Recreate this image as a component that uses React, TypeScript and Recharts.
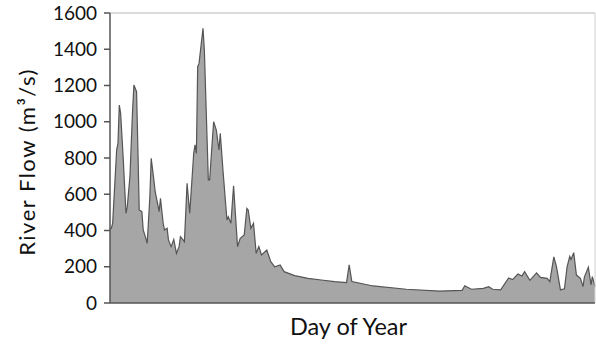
import React from "react";
import { AreaChart, Area, XAxis, YAxis, ReferenceLine } from "recharts";

const days = [0,1,2,5,6,7,8,10,12,13,15,17,18,20,21,22,24,25,27,28,30,31,33,34,36,37,38,40,41,43,44,46,48,50,52,53,55,56,58,60,63,64,65,66,67,70,71,74,75,76,78,80,82,83,85,88,89,91,93,95,96,98,101,103,104,106,108,110,112,114,118,121,124,128,131,139,149,159,169,178,180,182,198,223,248,265,267,272,281,285,288,294,300,303,307,310,312,316,321,324,329,331,334,336,339,342,344,346,347,349,351,354,356,357,360,362,363,365];
const flows = [410,412,440,844,881,1092,1047,789,495,531,697,1064,1203,1166,844,513,504,403,357,329,586,798,679,614,541,504,577,440,403,412,348,311,351,274,311,366,348,338,660,495,826,872,826,1304,1322,1515,1396,679,679,789,1000,954,844,936,734,458,476,440,646,421,311,357,375,522,513,412,440,274,311,265,292,228,200,210,173,151,136,127,118,112,210,118,94,76,66,70,95,76,81,90,76,72,138,129,160,149,173,125,166,141,136,118,255,200,72,78,200,257,240,278,154,136,90,143,197,100,145,90];
const yTicks = [0,200,400,600,800,1000,1200,1400,1600];
const xLabel = "Day of Year";
const yLabel = "River Flow (m\u00B3/s)";

const data = days.map((d, i) => ({ day: d, flow: flows[i] }));

const font = "Lato, 'Open Sans', sans-serif";

const YLabel = (props: any) => {
  const vb = props.viewBox || { x: 0, y: 13, width: 110, height: 290 };
  const cx = vb.x + 26;
  const cy = vb.y + vb.height / 2 + 4;
  return (
    <text
      x={cx}
      y={cy}
      transform={`rotate(-90, ${cx}, ${cy})`}
      textAnchor="middle"
      dominantBaseline="central"
      fill="#111"
      fontSize={22}
      letterSpacing={1.5}
      fontFamily={font}
    >
      {yLabel}
    </text>
  );
};

export default function App() {
  return (
    <div style={{ width: 596, height: 347, background: "#fff" }}>
      <style>{`body{margin:0;}`}</style>
      <AreaChart width={596} height={347} data={data} margin={{ top: 13, right: 1, bottom: 0, left: 0 }}>
        <XAxis
          dataKey="day"
          type="number"
          domain={[0, 365]}
          tick={false}
          tickLine={false}
          axisLine={{ stroke: "#555", strokeWidth: 1.5 }}
          height={44}
          label={{ value: xLabel, position: "center", dx: -4, dy: 2, fill: "#111", fontSize: 23.5, fontFamily: font }}
        />
        <YAxis
          domain={[0, 1600]}
          ticks={yTicks}
          interval={0}
          width={110}
          tickSize={6}
          tickMargin={7}
          axisLine={{ stroke: "#555", strokeWidth: 1.5 }}
          tickLine={{ stroke: "#555", strokeWidth: 1.5 }}
          tick={{ fill: "#111", fontSize: 19, fontFamily: font }}
          label={<YLabel />}
        />
        <ReferenceLine y={1600} stroke="#b5b5b5" strokeWidth={1} />
        <ReferenceLine x={365} stroke="#d0d0d0" strokeWidth={1} />
        <Area
          type="linear"
          dataKey="flow"
          stroke="#555"
          strokeWidth={1.2}
          fill="#a6a6a6"
          fillOpacity={1}
          isAnimationActive={false}
          dot={false}
          activeDot={false}
        />
      </AreaChart>
    </div>
  );
}
